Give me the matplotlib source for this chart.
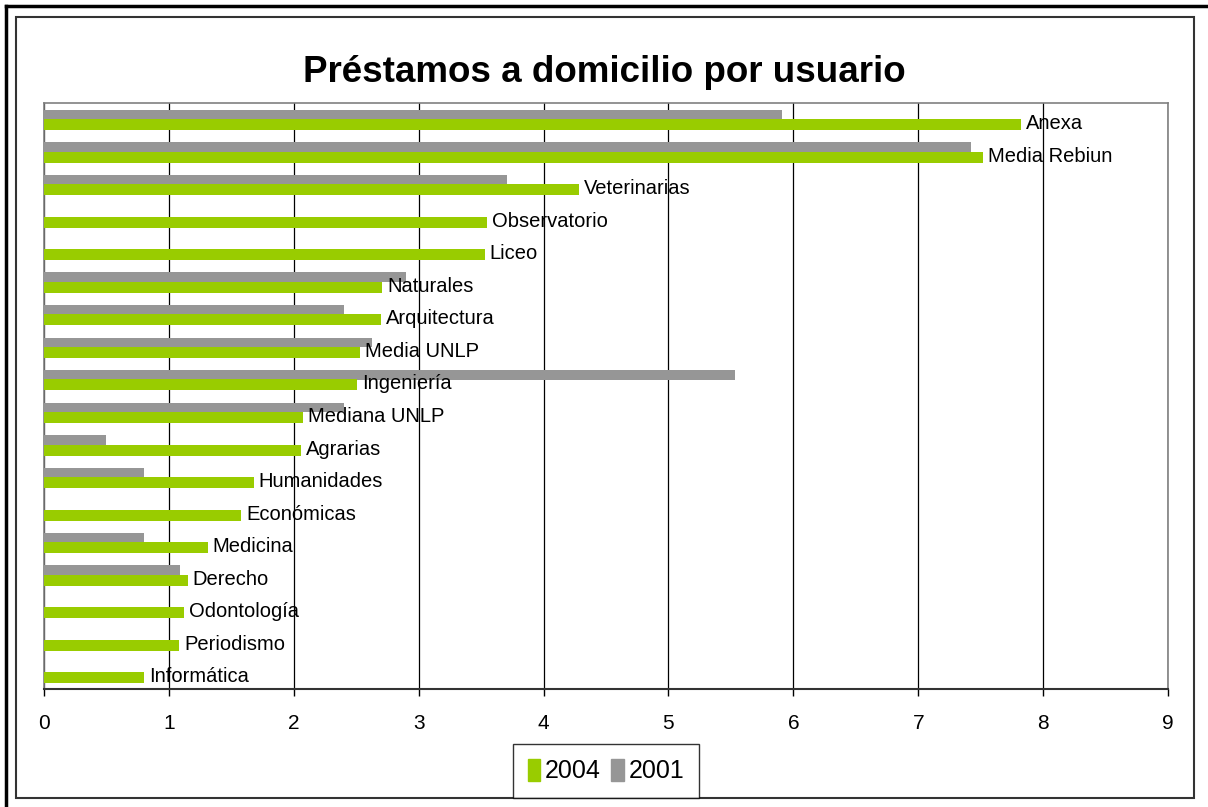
import matplotlib.pyplot as plt
from matplotlib.patches import Patch, Rectangle
from matplotlib.lines import Line2D

plt.rcParams['font.family'] = ['Liberation Sans', 'DejaVu Sans']

# Data (top to bottom)
categorias = ["Anexa", "Media Rebiun", "Veterinarias", "Observatorio", "Liceo",
              "Naturales", "Arquitectura", "Media UNLP", "Ingeniería",
              "Mediana UNLP", "Agrarias", "Humanidades", "Económicas",
              "Medicina", "Derecho", "Odontología", "Periodismo", "Informática"]
v2004 = [7.82, 7.52, 4.28, 3.55, 3.53, 2.71, 2.70, 2.53, 2.51,
         2.07, 2.06, 1.68, 1.58, 1.31, 1.15, 1.12, 1.08, 0.80]
v2001 = [5.91, 7.42, 3.71, 0, 0, 2.90, 2.40, 2.63, 5.53,
         2.40, 0.50, 0.80, 0, 0.80, 1.09, 0, 0, 0]

verde = "#99CC00"
gris = "#969696"

W, H = 1208, 807
fig = plt.figure(figsize=(W / 100, H / 100), dpi=100)
ax = fig.add_axes([44 / W, 1 - 689 / H, (1168 - 44) / W, (689 - 103) / H])

y = list(range(len(categorias)))
ax.barh([i - 0.15 for i in y], v2001, height=0.29, color=gris, zorder=3)
ax.barh([i + 0.16 for i in y], v2004, height=0.34, color=verde, zorder=3)

# category labels at the end of 2004 bars
for i, (v, c) in enumerate(zip(v2004, categorias)):
    ax.annotate(c, xy=(v, i + 0.13), xytext=(5, 0), textcoords="offset pixels",
                va="center", ha="left", fontsize=14.5, zorder=4)

ax.set_xlim(0, 9)
ax.set_ylim(len(categorias) - 0.5, -0.5)
ax.set_xticks(range(10))
ax.set_yticks([])
ax.grid(axis="x", color="black", linewidth=0.9, zorder=1)
ax.tick_params(axis="x", direction="out", length=5, width=1, labelsize=15, pad=13)
for s in ["top", "left", "right"]:
    ax.spines[s].set_color("#808080")
    ax.spines[s].set_linewidth(1.2)
ax.spines["bottom"].set_color("#333333")
ax.spines["bottom"].set_linewidth(1.5)

fig.text(0.5, 1 - 72 / H, "Préstamos a domicilio por usuario", ha="center",
         va="center", fontsize=26.5, fontweight="bold")

# frames
fig.add_artist(Rectangle((16 / W, 1 - 798 / H), (1194 - 16) / W, (798 - 17) / H,
                         transform=fig.transFigure, fill=False,
                         edgecolor="#333333", linewidth=1.5))
fig.add_artist(Line2D([6 / W, 1], [1 - 6 / H, 1 - 6 / H], transform=fig.transFigure,
                      color="black", linewidth=2.5))
fig.add_artist(Line2D([6 / W, 6 / W], [0, 1 - 6 / H], transform=fig.transFigure,
                      color="black", linewidth=2.5))

handles = [Patch(color=verde), Patch(color=gris)]
leg = fig.legend(handles, ["2004", "2001"], loc="center",
                 bbox_to_anchor=(606 / W, 1 - 771 / H), ncol=2, fontsize=18,
                 frameon=True, fancybox=False, edgecolor="black",
                 handlelength=0.5, handleheight=1.0, handletextpad=0.2,
                 columnspacing=0.4, borderpad=0.6)
leg.get_frame().set_linewidth(1.0)

fig.savefig("out.png", dpi=100)
